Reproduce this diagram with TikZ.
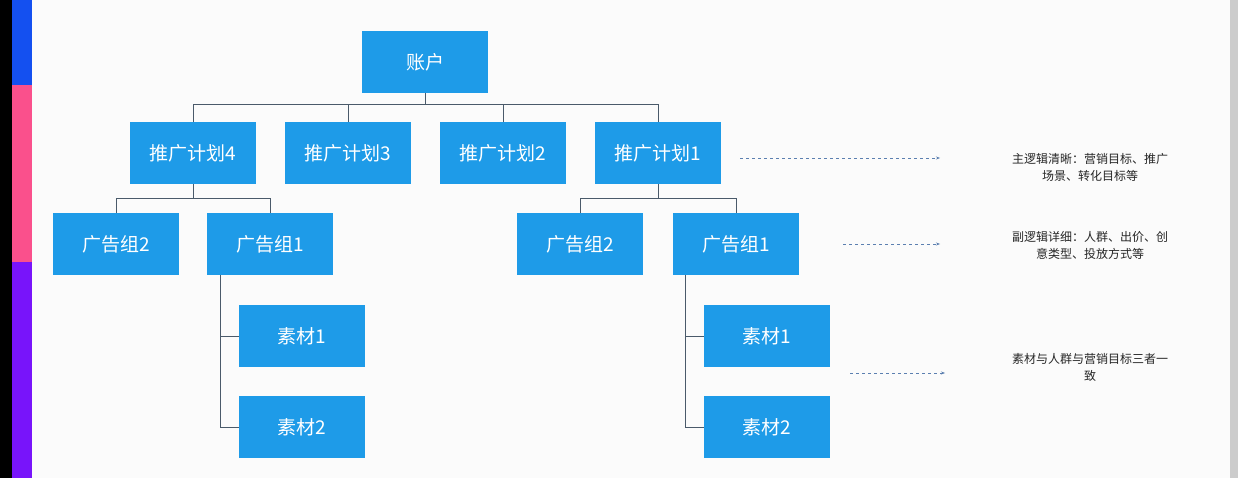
\documentclass[tikz,border=0pt]{standalone}
\usepackage{fontspec}
\newfontfamily\cjk{Noto Sans CJK SC}
\usetikzlibrary{arrows.meta}
\definecolor{boxblue}{HTML}{1E9BE8}
\definecolor{linec}{HTML}{4A5A6A}
\definecolor{dashc}{HTML}{5B7FB0}
\definecolor{barblue}{HTML}{1450F0}
\definecolor{barpink}{HTML}{FA508C}
\definecolor{barpurple}{HTML}{7814FA}
\begin{document}
\begin{tikzpicture}[x=1pt,y=-1pt,
  bx/.style={fill=boxblue,minimum width=126pt,minimum height=62pt,inner sep=0pt,text=white,font=\cjk\fontsize{19}{22}\selectfont},
  cn/.style={draw=linec,line width=0.8pt},
  da/.style={draw=dashc,dashed,line width=0.7pt,-{Stealth[length=4pt]}},
  nt/.style={font=\cjk\fontsize{12}{17}\selectfont,text=black!85,align=center,text width=250pt}]
\useasboundingbox (0,0) rectangle (1238,478);
\fill[white!97!gray] (0,0) rectangle (1238,478);
\fill[black] (0,0) rectangle (12,478);
\fill[barblue] (12,0) rectangle (32,85);
\fill[barpink] (12,85) rectangle (32,262);
\fill[barpurple] (12,262) rectangle (32,478);
\fill[gray!40] (1230,0) rectangle (1238,478);
\node[bx] (acc) at (425,62) {账户};
\node[bx] (p4) at (193,153) {推广计划4};
\node[bx] (p3) at (348,153) {推广计划3};
\node[bx] (p2) at (503,153) {推广计划2};
\node[bx] (p1) at (658,153) {推广计划1};
\node[bx] (gl2) at (116,244) {广告组2};
\node[bx] (gl1) at (270,244) {广告组1};
\node[bx] (gr2) at (580,244) {广告组2};
\node[bx] (gr1) at (736,244) {广告组1};
\node[bx] (ml1) at (302,336) {素材1};
\node[bx] (ml2) at (302,427) {素材2};
\node[bx] (mr1) at (767,336) {素材1};
\node[bx] (mr2) at (767,427) {素材2};
\draw[cn] (acc.south) -- ++(0,12);
\draw[cn] (p4.north) -- ++(0,-17) -| (p1.north);
\draw[cn] (p3.north) -- ++(0,-17);
\draw[cn] (p2.north) -- ++(0,-17);
\draw[cn] (p4.south) -- ++(0,14);
\draw[cn] (gl2.north) -- ++(0,-14) -| (gl1.north);
\draw[cn] (p1.south) -- ++(0,14);
\draw[cn] (gr2.north) -- ++(0,-14) -| (gr1.north);
\draw[cn] (gl1.south -| 220,0) |- (ml2.west);
\draw[cn] (220,336) -- (ml1.west);
\draw[cn] (gr1.south -| 685,0) |- (mr2.west);
\draw[cn] (685,336) -- (mr1.west);
\coordinate (a1) at (940,158);
\coordinate (a2) at (940,244);
\coordinate (a3) at (945,373);
\draw[da] (740,158) -- (a1);
\draw[da] (843,244) -- (a2);
\draw[da] (850,373) -- (a3);
\node[nt] (t1) at (1090,167) {主逻辑清晰：营销目标、推广\\场景、转化目标等};
\node[nt] (t2) at (1090,245) {副逻辑详细：人群、出价、创\\意类型、投放方式等};
\node[nt] (t3) at (1090,367) {素材与人群与营销目标三者一\\致};
\end{tikzpicture}
\end{document}
